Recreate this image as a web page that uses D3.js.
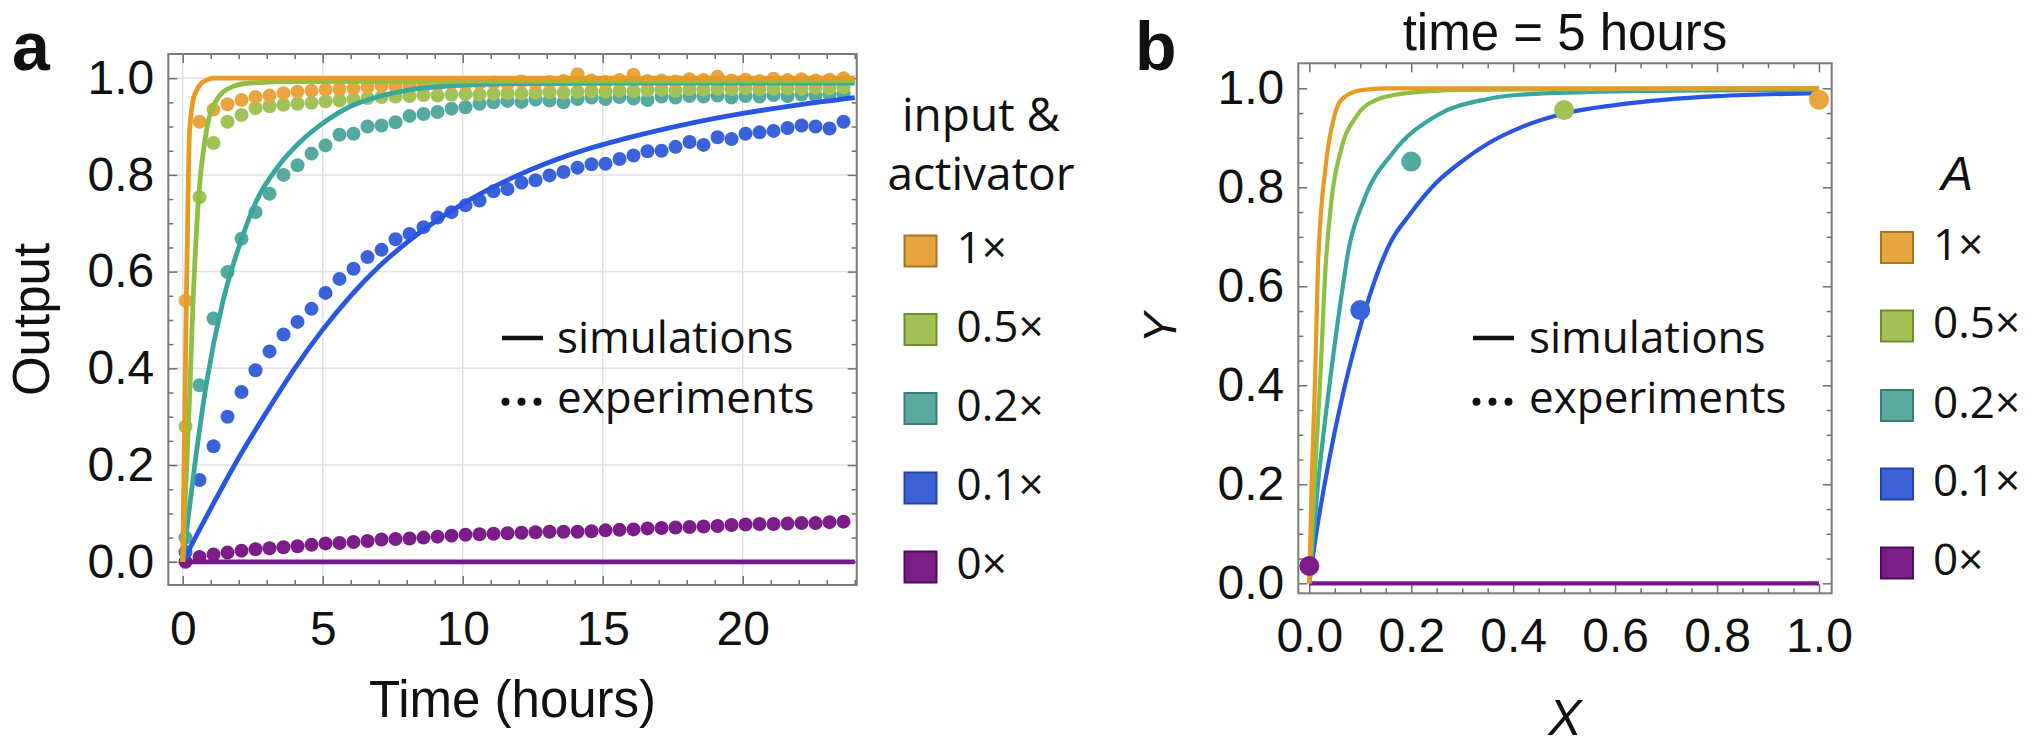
<!DOCTYPE html>
<html><head><meta charset="utf-8">
<script src="https://cdn.jsdelivr.net/npm/d3@7"></script>
<style>html,body{margin:0;padding:0;background:#fff}svg{display:block}</style>
</head><body>
<svg id="chart" width="2040" height="746"></svg>
<script>
// ---------------- DATA ----------------
const seriesNames = ["1×", "0.5×", "0.2×", "0.1×", "0×"];

// Panel a: experiments (dots)
const expTimes = [0.1,0.6,1.1,1.6,2.1,2.6,3.1,3.6,4.1,4.6,5.1,5.6,6.1,6.6,7.1,7.6,8.1,8.6,9.1,9.6,10.1,10.6,11.1,11.6,12.1,12.6,13.1,13.6,14.1,14.6,15.1,15.6,16.1,16.6,17.1,17.6,18.1,18.6,19.1,19.6,20.1,20.6,21.1,21.6,22.1,22.6,23.1,23.6];
const exp1x  = [0.54,0.91,0.935,0.946,0.955,0.961,0.964,0.969,0.972,0.974,0.976,0.977,0.979,0.982,0.985,0.983,0.986,0.988,0.987,0.99,0.988,0.99,0.991,0.989,0.993,0.99,0.992,0.994,1.008,0.995,0.992,0.996,1.007,0.994,0.995,0.993,0.998,0.996,1.003,0.995,0.997,0.994,0.999,0.996,0.998,0.995,0.997,1.0];
const exp05x = [0.28,0.754,0.866,0.91,0.924,0.938,0.942,0.945,0.947,0.949,0.952,0.954,0.956,0.959,0.961,0.962,0.963,0.965,0.964,0.966,0.967,0.966,0.968,0.969,0.968,0.97,0.971,0.97,0.972,0.973,0.972,0.974,0.973,0.975,0.976,0.974,0.977,0.976,0.978,0.977,0.979,0.977,0.978,0.979,0.978,0.98,0.979,0.981];
const exp02x = [0.05,0.365,0.503,0.599,0.668,0.723,0.761,0.8,0.82,0.844,0.861,0.883,0.885,0.9,0.902,0.909,0.922,0.926,0.93,0.937,0.94,0.947,0.95,0.953,0.951,0.956,0.954,0.95,0.957,0.96,0.957,0.961,0.958,0.955,0.962,0.96,0.963,0.962,0.964,0.96,0.963,0.962,0.965,0.963,0.966,0.964,0.966,0.967];
const exp01x = [0.02,0.169,0.239,0.3,0.351,0.396,0.435,0.47,0.496,0.523,0.556,0.585,0.606,0.63,0.645,0.667,0.678,0.692,0.712,0.723,0.737,0.747,0.766,0.771,0.784,0.789,0.799,0.806,0.815,0.822,0.823,0.833,0.84,0.849,0.85,0.858,0.868,0.862,0.878,0.874,0.885,0.888,0.891,0.897,0.902,0.9,0.896,0.91];
const exp0x  = [0,0.01,0.015,0.019,0.023,0.026,0.028,0.03,0.032,0.035,0.038,0.039,0.041,0.043,0.046,0.047,0.048,0.05,0.052,0.054,0.056,0.057,0.058,0.059,0.06,0.061,0.062,0.062,0.062,0.063,0.065,0.066,0.067,0.069,0.07,0.071,0.072,0.073,0.074,0.076,0.077,0.078,0.078,0.079,0.08,0.08,0.082,0.083];

// Panel a: simulations (lines)
const sim1xT  = [0,0.04,0.08,0.13,0.18,0.24,0.37,0.5,0.64,0.85,1.1,2,24];
const sim1xV  = [0,0.17,0.33,0.54,0.72,0.885,0.954,0.975,0.988,0.996,1.0,1.0,1.0];
const sim05xT = [0,0.12,0.24,0.37,0.56,0.83,1.2,1.76,2.4,4,24];
const sim05xV = [0,0.17,0.334,0.54,0.747,0.885,0.954,0.982,0.99,0.993,0.995];
const sim02xT = [0,0.43,0.85,1.44,2,2.64,3.44,4.19,4.96,6,7,8,9.5,12,24];
const sim02xV = [0,0.2,0.37,0.54,0.65,0.747,0.82,0.868,0.905,0.942,0.962,0.975,0.984,0.989,0.99];
const sim01xT = [0,1,2,3,4,5,6,7,8,10,12,14,16,18,20,22,24];
const sim01xV = [0,0.11,0.215,0.31,0.4,0.48,0.55,0.61,0.66,0.74,0.8,0.845,0.878,0.905,0.927,0.945,0.96];
const sim0xT  = [0,24];
const sim0xV  = [0,0];

// Panel b: simulations Y vs X at time = 5 hours
const simB1xX  = [0,0.0045,0.011,0.017,0.032,0.049,0.062,0.1,0.15,1];
const simB1xY  = [0,0.2,0.4,0.64,0.842,0.943,0.976,0.996,1.0,1.0];
const simB05xX = [0,0.01,0.021,0.032,0.0435,0.062,0.092,0.13,0.19,0.3,1];
const simB05xY = [0,0.2,0.404,0.64,0.774,0.875,0.943,0.976,0.99,0.997,1.0];
const simB02xX = [0,0.017,0.04,0.062,0.077,0.107,0.164,0.25,0.348,0.413,0.565,0.8,1];
const simB02xY = [0,0.2,0.404,0.573,0.674,0.774,0.87,0.945,0.978,0.987,0.993,0.996,0.997];
const simB01xX = [0,0.0135,0.03,0.07,0.095,0.112,0.133,0.16,0.197,0.25,0.3,0.35,0.42,0.5,0.6,0.7,0.8,1];
const simB01xY = [0,0.1,0.2,0.4,0.5,0.56,0.625,0.69,0.745,0.81,0.853,0.888,0.923,0.949,0.966,0.977,0.984,0.99];
const simB0xX  = [0,1];
const simB0xY  = [0,0];
// Panel b: experiments (one point per series)
const expBX = [1.0, 0.5, 0.2, 0.1, 0.0];
const expBY = [0.977, 0.956, 0.852, 0.552, 0.035];

// Tick values
const xTicksA = [0,5,10,15,20];
const xMinorA = [1,2,3,4,6,7,8,9,11,12,13,14,16,17,18,19,21,22,23,24];
const yTicks = [0,0.2,0.4,0.6,0.8,1.0];
const yMinor = [0.05,0.1,0.15,0.25,0.3,0.35,0.45,0.5,0.55,0.65,0.7,0.75,0.85,0.9,0.95];
const xTicksB = [0,0.2,0.4,0.6,0.8,1.0];
const xMinorB = [0.05,0.1,0.15,0.25,0.3,0.35,0.45,0.5,0.55,0.65,0.7,0.75,0.85,0.9,0.95];

// ---------------- STYLE ----------------
const dotColors  = ["#E9A640","#A0C256","#55A99F","#3A62DA","#7B1C88"];
const lineColors = ["#E89B22","#8DC044","#38A69C","#2855E3","#771689"];
const boxFill    = ["#E6A53F","#A3C157","#5BAAA0","#3D62D6","#7A1D86"];
const boxStroke  = ["#A87420","#6F8C2C","#3B7E76","#2443A8","#4E0D5C"];
const numFont = "'Liberation Sans', Arial, Helvetica, sans-serif";
const legFont = "'Open Sans', 'DejaVu Sans', sans-serif";

const svg = d3.select("#chart");
svg.append("rect").attr("width",2040).attr("height",746).attr("fill","#fff");

function styleAxis(g, fs) {
  g.select(".domain").remove();
  g.attr("font-family", numFont).attr("font-size", fs);
  g.selectAll(".tick line").attr("stroke", "#6e6e6e").attr("stroke-width", 1.5);
  g.selectAll(".tick text").attr("fill", "#111");
}

function buildPanel(cfg) {
  const g = svg.append("g");
  const x = d3.scaleLinear().domain(cfg.xDom).range([cfg.left, cfg.right]);
  const y = d3.scaleLinear().domain(cfg.yDom).range([cfg.bottom, cfg.top]);
  if (cfg.grid) {
    g.append("g").selectAll("line").data(cfg.xTicks).join("line")
      .attr("x1", d => x(d)).attr("x2", d => x(d)).attr("y1", cfg.top).attr("y2", cfg.bottom)
      .attr("stroke", "#e2e2e2").attr("stroke-width", 1.5);
    g.append("g").selectAll("line").data(cfg.yTicks).join("line")
      .attr("y1", d => y(d)).attr("y2", d => y(d)).attr("x1", cfg.left).attr("x2", cfg.right)
      .attr("stroke", "#e2e2e2").attr("stroke-width", 1.5);
  }
  const ab = g.append("g").attr("transform", `translate(0,${cfg.bottom})`)
    .call(d3.axisBottom(x).tickValues(cfg.xTicks).tickSize(-9).tickPadding(cfg.xPad).tickFormat(cfg.xFmt));
  styleAxis(ab, 48);
  const abm = g.append("g").attr("transform", `translate(0,${cfg.bottom})`)
    .call(d3.axisBottom(x).tickValues(cfg.xMinor).tickSize(-5).tickFormat(""));
  styleAxis(abm, 48);
  const at = g.append("g").attr("transform", `translate(0,${cfg.top})`)
    .call(d3.axisTop(x).tickValues(cfg.xTicks).tickSize(-9).tickFormat(""));
  styleAxis(at, 48);
  const atm = g.append("g").attr("transform", `translate(0,${cfg.top})`)
    .call(d3.axisTop(x).tickValues(cfg.xMinor).tickSize(-5).tickFormat(""));
  styleAxis(atm, 48);
  const al = g.append("g").attr("transform", `translate(${cfg.left},0)`)
    .call(d3.axisLeft(y).tickValues(cfg.yTicks).tickSize(-9).tickPadding(14).tickFormat(d3.format(".1f")));
  styleAxis(al, 48);
  const alm = g.append("g").attr("transform", `translate(${cfg.left},0)`)
    .call(d3.axisLeft(y).tickValues(cfg.yMinor).tickSize(-5).tickFormat(""));
  styleAxis(alm, 48);
  const ar = g.append("g").attr("transform", `translate(${cfg.right},0)`)
    .call(d3.axisRight(y).tickValues(cfg.yTicks).tickSize(-9).tickFormat(""));
  styleAxis(ar, 48);
  const arm = g.append("g").attr("transform", `translate(${cfg.right},0)`)
    .call(d3.axisRight(y).tickValues(cfg.yMinor).tickSize(-5).tickFormat(""));
  styleAxis(arm, 48);
  g.append("rect").attr("x", cfg.left).attr("y", cfg.top)
    .attr("width", cfg.right - cfg.left).attr("height", cfg.bottom - cfg.top)
    .attr("fill", "none").attr("stroke", "#7a7a7a").attr("stroke-width", 2);
  const clipId = "clip" + cfg.id;
  svg.append("defs").append("clipPath").attr("id", clipId).append("rect")
    .attr("x", cfg.left).attr("y", cfg.top).attr("width", cfg.right - cfg.left).attr("height", cfg.bottom - cfg.top);
  const plot = g.append("g").attr("clip-path", `url(#${clipId})`);
  return {g, x, y, plot};
}

// ---------------- PANEL A ----------------
const A = buildPanel({id:"a", left:168.3, right:856.7, top:54, bottom:585,
  xDom:[-0.515, 24.07], yDom:[-0.048, 1.05], grid:true,
  xTicks:xTicksA, xMinor:xMinorA, yTicks:yTicks, yMinor:yMinor, xPad:26, xFmt:d3.format("d")});

const expA = [exp1x, exp05x, exp02x, exp01x, exp0x];
const simA = [[sim1xT,sim1xV],[sim05xT,sim05xV],[sim02xT,sim02xV],[sim01xT,sim01xV],[sim0xT,sim0xV]];

for (let s = 4; s >= 0; s--) {
  A.plot.append("g").selectAll("circle").data(expTimes.map((t,i)=>[t, expA[s][i]])).join("circle")
    .attr("cx", d => A.x(d[0])).attr("cy", d => A.y(d[1])).attr("r", 7)
    .attr("fill", dotColors[s]);
}
const lineA = d3.line().x(d => A.x(d[0])).y(d => A.y(d[1])).curve(d3.curveMonotoneX);
for (let s = 4; s >= 0; s--) {
  const pts = simA[s][0].map((t,i)=>[t, simA[s][1][i]]);
  A.plot.append("path").datum(pts).attr("d", lineA).attr("fill","none")
    .attr("stroke", lineColors[s]).attr("stroke-width", 4.8).attr("stroke-linejoin","round");
}

// ---------------- PANEL B ----------------
const B = buildPanel({id:"b", left:1298.3, right:1831.7, top:63.3, bottom:593.3,
  xDom:[-0.0216, 1.025], yDom:[-0.0202, 1.0505], grid:false,
  xTicks:xTicksB, xMinor:xMinorB, yTicks:yTicks, yMinor:yMinor, xPad:25, xFmt:d3.format(".1f")});

const simB = [[simB1xX,simB1xY],[simB05xX,simB05xY],[simB02xX,simB02xY],[simB01xX,simB01xY],[simB0xX,simB0xY]];
const lineB = d3.line().x(d => B.x(d[0])).y(d => B.y(d[1])).curve(d3.curveMonotoneX);
for (let s = 4; s >= 0; s--) {
  const pts = simB[s][0].map((v,i)=>[v, simB[s][1][i]]);
  B.plot.append("path").datum(pts).attr("d", lineB).attr("fill","none")
    .attr("stroke", lineColors[s]).attr("stroke-width", 4.2).attr("stroke-linejoin","round");
}
B.g.append("g").selectAll("circle").data(expBX.map((v,i)=>[v, expBY[i], i])).join("circle")
  .attr("cx", d => B.x(d[0])).attr("cy", d => B.y(d[1])).attr("r", 10)
  .attr("fill", d => dotColors[d[2]]);

// ---------------- TEXT ----------------
function txt(x, y, s, opts = {}) {
  const t = svg.append("text").attr("x", x).attr("y", y).text(s)
    .attr("font-family", opts.font || numFont).attr("font-size", opts.size || 48)
    .attr("fill", "#111").attr("text-anchor", opts.anchor || "start");
  if (opts.weight) t.attr("font-weight", opts.weight);
  if (opts.style) t.attr("font-style", opts.style);
  if (opts.rotate) t.attr("transform", `rotate(${opts.rotate},${x},${y})`);
  return t;
}
txt(12, 70, "a", {size: 68, weight: "bold"});
txt(1135, 70, "b", {size: 68, weight: "bold"});
txt(49, 319.5, "Output", {size: 51, anchor: "middle", rotate: -90});
txt(512.5, 717, "Time (hours)", {size: 51, anchor: "middle"});
txt(1565, 50, "time = 5 hours", {size: 51, anchor: "middle"});
txt(1565, 735, "X", {size: 50, anchor: "middle", style: "italic"});
txt(1176, 328, "Y", {size: 46, anchor: "middle", style: "italic", rotate: -90});

function styleLegend(x0, textX) {
  svg.append("line").attr("x1", x0).attr("x2", x0 + 41).attr("y1", 338).attr("y2", 338)
    .attr("stroke", "#111").attr("stroke-width", 4.5);
  svg.append("g").selectAll("circle").data([0,1,2]).join("circle")
    .attr("cx", d => x0 + 3.5 + d * 16).attr("cy", 401.7).attr("r", 4).attr("fill", "#111");
  txt(textX, 353, "simulations", {font: legFont, size: 44});
  txt(textX, 413, "experiments", {font: legFont, size: 44});
}
styleLegend(502, 557);
styleLegend(1473, 1529);

function colorLegend(boxX, centers, titleLines, titleX, titleItalic) {
  titleLines.forEach(l => {
    txt(titleX, l[1], l[0], titleItalic ? {size: 48, anchor: "middle", style: "italic"} : {font: legFont, size: 46, anchor: "middle"});
  });
  seriesNames.forEach((n, i) => {
    svg.append("rect").attr("x", boxX).attr("y", centers[i] - 15.5).attr("width", 32).attr("height", 31)
      .attr("fill", boxFill[i]).attr("stroke", boxStroke[i]).attr("stroke-width", 2);
    txt(boxX + 52, centers[i] + 12, n, {font: legFont, size: 44});
  });
}
colorLegend(904.5, [251, 329.5, 408.5, 488, 567], [["input &", 131], ["activator", 190]], 981, false);
colorLegend(1881, [247.5, 326, 405.5, 484, 563], [["A", 190]], 1957, true);
</script>
</body></html>
